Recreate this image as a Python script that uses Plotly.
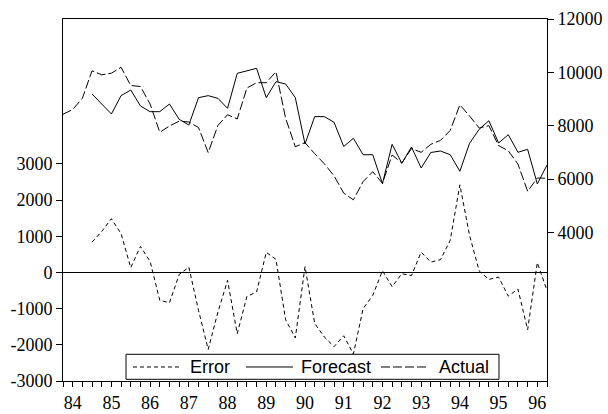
import plotly.graph_objects as go

# quarters from 1983Q4 to 1996Q2
start_year, start_q = 1983, 4
n_q = 51
quarters = []
y, q = start_year, start_q
for _ in range(n_q):
    quarters.append(y + (q - 1) / 4)
    q += 1
    if q > 4:
        q = 1
        y += 1

actual = [8426, 8606, 9026, 10058, 9908, 9968, 10189, 9506, 9469, 8810,
          7750, 7988, 8170, 8138, 7930, 6990, 8006, 8410, 8250, 9413,
          9611, 9611, 10024, 8276, 7211, 7361, 6950, 6570, 6120, 5470,
          5220, 5900, 6275, 5839, 6900, 6600, 7140, 7000, 7300, 7450,
          7820, 8780, 8363, 7910, 8000, 7250, 7060, 6555, 5540, 6038, 6026]

forecast = [None, None, None, 9188, 8800, 8438, 9125, 9338, 8738, 8525,
            8525, 8813, 8238, 8025, 9050, 9125, 9025, 8650, 9963, 10058,
            10150, 9050, 9650, 9563, 9050, 7313, 8338, 8338, 8126, 7219,
            7526, 6911, 6911, 5824, 7301, 6589, 7200, 6413, 6994, 7050,
            6911, 6289, 7339, 7868, 8186, 7350, 7661, 7001, 7114, 5813, 6525]

error = [None, None, None, 837, 1130, 1483, 1069, 131, 718, 304,
         -773, -837, -60, 146, -1050, -2127, -1100, -221, -1693, -663,
         -540, 555, 360, -1310, -1810, 160, -1410, -1786, -2050, -1750,
         -2255, -1003, -635, 45, -395, -37, -88, 561, 285, 351,
         884, 2420, 1022, 36, -193, -130, -655, -461, -1583, 270, -497]

series_names = ["Error", "Forecast", "Actual"]
year_ticks = list(range(1984, 1997))
year_labels = [f"{v % 100:02d}" for v in year_ticks]
left_ticks = [-3000, -2000, -1000, 0, 1000, 2000, 3000]
left_labels = [str(v) for v in left_ticks]
right_ticks = [4000, 6000, 8000, 10000, 12000]
right_labels = [str(v) for v in right_ticks]

serif = "Liberation Serif"
sans = "Liberation Sans"
dash_error = "4px,3px"
dash_actual = "9px,3px"

fig = go.Figure()
fig.add_trace(go.Scatter(x=quarters, y=error, name=series_names[0], mode="lines",
                         line=dict(color="black", width=1, dash=dash_error),
                         yaxis="y", connectgaps=False))
fig.add_trace(go.Scatter(x=quarters, y=forecast, name=series_names[1], mode="lines",
                         line=dict(color="black", width=1),
                         yaxis="y2", connectgaps=False))
fig.add_trace(go.Scatter(x=quarters, y=actual, name=series_names[2], mode="lines",
                         line=dict(color="black", width=1, dash=dash_actual),
                         yaxis="y2"))

# legend box drawn in paper coordinates (EViews style)
shapes = [
    dict(type="rect", xref="paper", yref="paper", x0=0.1302, x1=0.9008,
         y0=0.0047, y1=0.0738, fillcolor="white", line=dict(color="black", width=1),
         layer="above"),
]
leg_y = 0.0387
samples = [(0.1446, 0.2417, dash_error), (0.3781, 0.4752, "solid"), (0.657, 0.7541, dash_actual)]
text_x = [0.2603, 0.4897, 0.7748]
annotations = []
for (x0, x1, d), tx, nm in zip(samples, text_x, series_names):
    shapes.append(dict(type="line", xref="paper", yref="paper", x0=x0, x1=x1,
                       y0=leg_y, y1=leg_y, line=dict(color="black", width=1, dash=d),
                       layer="above"))
    annotations.append(dict(xref="paper", yref="paper", x=tx, y=leg_y, text=nm,
                            showarrow=False, xanchor="left", yanchor="middle",
                            font=dict(family=sans, size=18, color="black"),
                            borderpad=0))

fig.update_layout(
    width=608, height=414,
    margin=dict(l=63, r=61, t=19, b=33, autoexpand=False),
    paper_bgcolor="white", plot_bgcolor="white",
    showlegend=False,
    shapes=shapes, annotations=annotations,
    xaxis=dict(range=[1983.75, 1996.25], tickvals=year_ticks, ticktext=year_labels,
               ticks="outside", ticklen=5, tickcolor="black", tickwidth=1,
               minor=dict(dtick=0.25, tick0=1984, ticks="outside", ticklen=5,
                          tickcolor="black", tickwidth=1, showgrid=False),
               showgrid=False, zeroline=False, showline=True, linecolor="black",
               linewidth=1, mirror=True, automargin=False,
               tickfont=dict(family=serif, size=18, color="black")),
    yaxis=dict(range=[-3000, 7000], tickvals=left_ticks, ticktext=left_labels,
               ticks="outside", ticklen=6, tickcolor="black", tickwidth=1,
               showgrid=False, zeroline=True, zerolinecolor="black", zerolinewidth=1,
               showline=True, linecolor="black", linewidth=1, automargin=False,
               tickfont=dict(family=serif, size=18, color="black")),
    yaxis2=dict(range=[-1575, 12000], tickvals=right_ticks, ticktext=right_labels,
                overlaying="y", side="right",
                ticks="outside", ticklen=6, tickcolor="black", tickwidth=1,
                showgrid=False, zeroline=False, showline=True, linecolor="black",
                linewidth=1, automargin=False,
                tickfont=dict(family=serif, size=18, color="black")),
)

fig.write_html("out.html", config={"displayModeBar": False},
               post_script="document.body.style.margin='0';document.body.style.overflow='hidden';")
